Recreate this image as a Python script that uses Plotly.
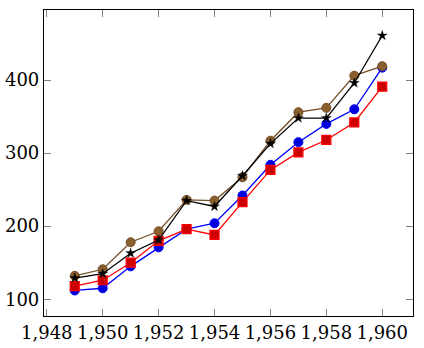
import plotly.graph_objects as go

years = [1949, 1950, 1951, 1952, 1953, 1954, 1955, 1956, 1957, 1958, 1959, 1960]
jan = [112, 115, 145, 171, 196, 204, 242, 284, 315, 340, 360, 417]
feb = [118, 126, 150, 180, 196, 188, 233, 277, 301, 318, 342, 391]
mar = [132, 141, 178, 193, 236, 235, 267, 317, 356, 362, 406, 419]
apr = [129, 135, 163, 181, 235, 227, 269, 313, 348, 348, 396, 461]

x_ticks = [1948, 1950, 1952, 1954, 1956, 1958, 1960]
y_ticks = [100, 200, 300, 400]

fig = go.Figure()
fig.add_trace(go.Scatter(x=years, y=jan, mode="lines+markers",
                         line=dict(color="#0000FF", width=1.3),
                         marker=dict(symbol="circle", size=9, color="#0000DD",
                                     line=dict(color="#0000FF", width=1))))
fig.add_trace(go.Scatter(x=years, y=feb, mode="lines+markers",
                         line=dict(color="#FF0000", width=1.3),
                         marker=dict(symbol="square", size=9, color="#CC0000",
                                     line=dict(color="#FF0000", width=1.2))))
fig.add_trace(go.Scatter(x=years, y=mar, mode="lines+markers",
                         line=dict(color="#734D26", width=1.3),
                         marker=dict(symbol="circle", size=9, color="#8A5F30",
                                     line=dict(color="#734D26", width=1))))
fig.add_trace(go.Scatter(x=years, y=apr, mode="lines+markers",
                         line=dict(color="#000000", width=1.3),
                         marker=dict(symbol="star", size=7.5, color="#000000",
                                     line=dict(color="#000000", width=0.3))))

axis_common = dict(showgrid=False, zeroline=False, showline=True, linecolor="black",
                   linewidth=1.2, mirror="ticks", ticks="inside", ticklen=7,
                   tickcolor="#808080", tickwidth=1, automargin=False,
                   tickfont=dict(family="DejaVu Serif", size=18, color="black"))

fig.update_xaxes(range=[1947.9, 1961.1], tickvals=x_ticks, tickformat=",d",
                 **axis_common)
fig.update_yaxes(range=[77.05, 495.9], tickvals=y_ticks, **axis_common)

fig.update_layout(width=424, height=348, showlegend=False,
                  margin=dict(l=44, r=11, t=10, b=32),
                  paper_bgcolor="white", plot_bgcolor="white")

fig.write_html("out.html")
